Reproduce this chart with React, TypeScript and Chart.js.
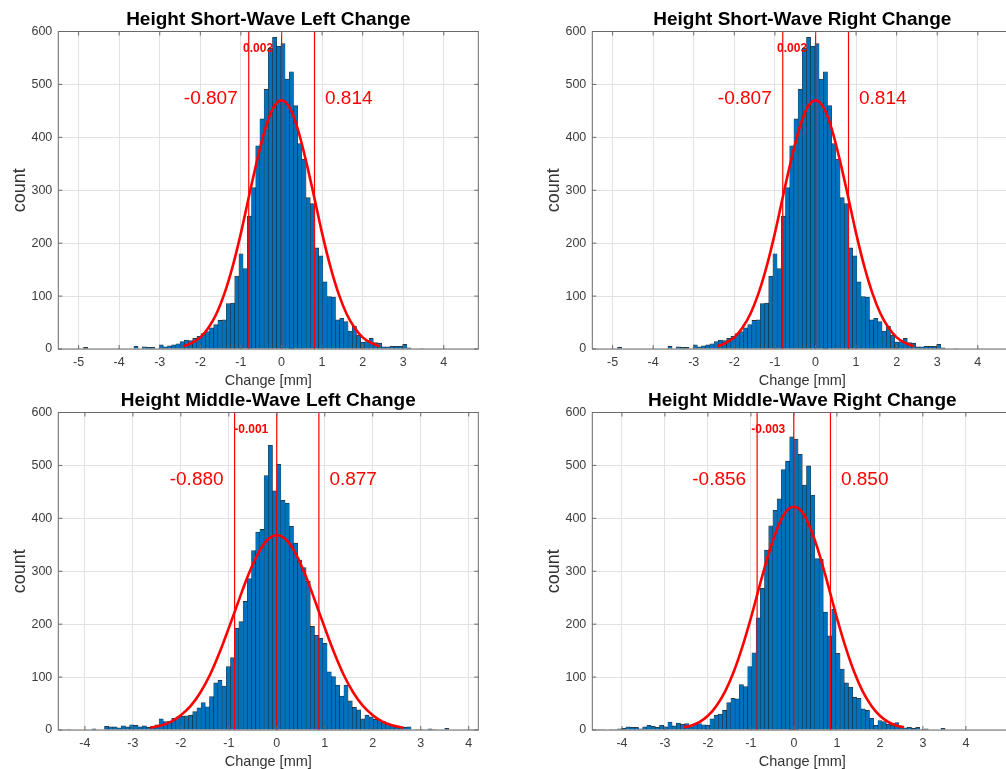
import React, { useEffect, useRef } from 'react';
import { Chart, registerables } from 'chart.js';

Chart.register(...registerables);

const FONT = "'Liberation Sans', Arial, Helvetica, sans-serif";
Chart.defaults.font.family = FONT;

// ---------- shared axis data ----------
const Y_TICKS = [0, 100, 200, 300, 400, 500, 600];
const X_TICKS_SHORT = [-5, -4, -3, -2, -1, 0, 1, 2, 3, 4];
const X_TICKS_MIDDLE = [-4, -3, -2, -1, 0, 1, 2, 3, 4];

// ---------- Short-wave (left and right panels show the same histogram) ----------
const shortBinStart = -5.5;
const shortBinWidth = 0.1035;
const shortCounts = [
  0, 0, 0, 0, 0, 0, 3, 0, 0, 0,
  0, 0, 0, 0, 0, 0, 0, 0, 5, 0,
  4, 3, 3, 0, 8, 4, 6, 8, 10, 14,
  17, 16, 20, 24, 29, 33, 40, 46, 54, 55,
  86, 87, 138, 180, 152, 251, 305, 384, 435, 491,
  568, 589, 572, 577, 510, 524, 460, 388, 359, 286,
  275, 191, 176, 127, 99, 98, 55, 58, 52, 34,
  43, 26, 13, 14, 20, 12, 11, 4, 4, 5,
  5, 5, 9, 2, 0, 0, 1, 0, 0, 0,
  0, 0, 0, 0, 0, 0, 0, 0, 0, 0,
];
const shortFitX = [-2.42, -2.2, -2.0, -1.8, -1.6, -1.4, -1.2, -1.0, -0.8, -0.6, -0.4, -0.2, 0, 0.2, 0.4, 0.6, 0.8, 1.0, 1.2, 1.4, 1.6, 1.8, 2.0, 2.2, 2.43];
const shortFitY = [5, 12, 22, 40, 67, 106, 157, 219, 289, 357, 416, 456, 470, 456, 416, 357, 289, 219, 157, 106, 67, 40, 22, 12, 5];
const shortStats = [-0.807, 0.003, 0.814];
const shortLabels = ['-0.807', '0.003', '0.814'];

// ---------- Middle-wave left ----------
const midLeftBinStart = -4.555;
const midLeftBinWidth = 0.08755;
const midLeftCounts = [
  0, 0, 1, 0, 0, 0, 0, 0, 2, 0,
  0, 7, 6, 6, 4, 8, 6, 10, 9, 6,
  8, 5, 7, 10, 21, 16, 17, 22, 25, 26,
  27, 28, 35, 42, 52, 44, 63, 89, 94, 83,
  120, 137, 192, 205, 243, 286, 339, 374, 379, 481,
  538, 452, 502, 434, 429, 385, 353, 321, 307, 281,
  196, 179, 173, 164, 110, 101, 85, 64, 85, 55,
  43, 38, 21, 28, 25, 20, 19, 16, 13, 9,
  6, 4, 5, 6, 0, 1, 1, 0, 2, 1,
  0, 0, 3, 0, 0, 0, 0, 0, 1, 1,
];
const midLeftFitX = [-2.64, -2.4, -2.2, -2.0, -1.8, -1.6, -1.4, -1.2, -1.0, -0.8, -0.6, -0.4, -0.2, 0, 0.2, 0.4, 0.6, 0.8, 1.0, 1.2, 1.4, 1.6, 1.8, 2.0, 2.2, 2.4, 2.64];
const midLeftFitY = [4, 9, 16, 28, 45, 70, 103, 145, 193, 243, 292, 332, 359, 368, 359, 332, 292, 243, 193, 145, 103, 70, 45, 28, 16, 9, 4];
const midLeftStats = [-0.880, -0.001, 0.877];
const midLeftLabels = ['-0.880', '-0.001', '0.877'];

// ---------- Middle-wave right ----------
const midRightBinStart = -4.69;
const midRightBinWidth = 0.0977;
const midRightCounts = [
  0, 1, 1, 0, 1, 1, 2, 3, 6, 5,
  5, 2, 6, 9, 7, 5, 9, 6, 15, 8,
  13, 11, 12, 6, 11, 12, 10, 9, 21, 28,
  30, 37, 52, 60, 59, 86, 82, 120, 146, 212,
  268, 340, 386, 415, 437, 492, 508, 554, 550, 521,
  463, 499, 444, 324, 323, 223, 178, 228, 145, 115,
  89, 81, 62, 60, 40, 37, 22, 9, 18, 16,
  11, 9, 14, 6, 4, 5, 3, 5, 1, 2,
  0, 0, 0, 3, 0, 0, 0, 0, 0, 0,
  0, 0, 0, 0, 0, 0, 0, 0, 0, 0,
];
const midRightFitX = [-2.56, -2.4, -2.2, -2.0, -1.8, -1.6, -1.4, -1.2, -1.0, -0.8, -0.6, -0.4, -0.2, 0, 0.2, 0.4, 0.6, 0.8, 1.0, 1.2, 1.4, 1.6, 1.8, 2.0, 2.2, 2.4, 2.56];
const midRightFitY = [5, 8, 15, 27, 46, 73, 110, 157, 212, 272, 330, 378, 411, 422, 411, 378, 330, 272, 212, 157, 110, 73, 46, 27, 15, 8, 5];
const midRightStats = [-0.856, -0.003, 0.850];
const midRightLabels = ['-0.856', '-0.003', '0.850'];

type Panel = {
  title: string;
  binStart: number;
  binWidth: number;
  counts: number[];
  xMin: number;
  xMax: number;
  xTicks: number[];
  stats: number[];
  labels: string[];
  fitX: number[];
  fitY: number[];
  left: number;
  top: number;
};

const PANELS: Panel[] = [
  { title: 'Height Short-Wave Left Change', binStart: shortBinStart, binWidth: shortBinWidth, counts: shortCounts, xMin: -5.5, xMax: 4.85, xTicks: X_TICKS_SHORT, stats: shortStats, labels: shortLabels, fitX: shortFitX, fitY: shortFitY, left: 0, top: 0 },
  { title: 'Height Short-Wave Right Change', binStart: shortBinStart, binWidth: shortBinWidth, counts: shortCounts, xMin: -5.5, xMax: 4.85, xTicks: X_TICKS_SHORT, stats: shortStats, labels: shortLabels, fitX: shortFitX, fitY: shortFitY, left: 534, top: 0 },
  { title: 'Height Middle-Wave Left Change', binStart: midLeftBinStart, binWidth: midLeftBinWidth, counts: midLeftCounts, xMin: -4.555, xMax: 4.2, xTicks: X_TICKS_MIDDLE, stats: midLeftStats, labels: midLeftLabels, fitX: midLeftFitX, fitY: midLeftFitY, left: 0, top: 381 },
  { title: 'Height Middle-Wave Right Change', binStart: midRightBinStart, binWidth: midRightBinWidth, counts: midRightCounts, xMin: -4.69, xMax: 5.08, xTicks: X_TICKS_MIDDLE, stats: midRightStats, labels: midRightLabels, fitX: midRightFitX, fitY: midRightFitY, left: 534, top: 381 },
];

const CANVAS_W = 500;
const CANVAS_H = 388;

const matlabPlugin = {
  id: 'matlabAxes',
  afterDraw(chart: any, _args: any, opts: any) {
    const { ctx, chartArea: a, scales } = chart;
    const x = scales.x;
    const y = scales.y;
    ctx.save();
    // box
    ctx.strokeStyle = '#6a6a6a';
    ctx.lineWidth = 1;
    ctx.strokeRect(a.left, a.top, a.right - a.left, a.bottom - a.top);
    // inward ticks
    ctx.beginPath();
    for (const v of opts.xTicks) {
      const px = x.getPixelForValue(v);
      ctx.moveTo(px, a.bottom);
      ctx.lineTo(px, a.bottom - 4);
      ctx.moveTo(px, a.top);
      ctx.lineTo(px, a.top + 4);
    }
    for (const v of Y_TICKS) {
      const py = y.getPixelForValue(v);
      ctx.moveTo(a.left, py);
      ctx.lineTo(a.left + 4, py);
      ctx.moveTo(a.right, py);
      ctx.lineTo(a.right - 4, py);
    }
    ctx.stroke();

    const cx = (a.left + a.right) / 2;
    // title
    ctx.fillStyle = '#000';
    ctx.font = `bold 19px ${FONT}`;
    ctx.textAlign = 'center';
    ctx.textBaseline = 'alphabetic';
    ctx.fillText(opts.title, cx, 24.5);
    // x label
    ctx.fillStyle = '#333';
    ctx.font = `14.5px ${FONT}`;
    ctx.fillText('Change [mm]', cx, 384.5);
    // y label
    ctx.save();
    ctx.translate(24.5, (a.top + a.bottom) / 2);
    ctx.rotate(-Math.PI / 2);
    ctx.font = `18px ${FONT}`;
    ctx.textAlign = 'center';
    ctx.fillText('count', 0, 0);
    ctx.restore();

    // annotations
    const [lo, mean, hi] = opts.stats;
    const [loL, meanL, hiL] = opts.labels;
    ctx.fillStyle = '#ff0000';
    ctx.font = `19px ${FONT}`;
    const bigY = y.getPixelForValue(463.5);
    ctx.textAlign = 'right';
    ctx.fillText(loL, x.getPixelForValue(lo) - 11, bigY);
    ctx.textAlign = 'left';
    ctx.fillText(hiL, x.getPixelForValue(hi) + 10.5, bigY);
    ctx.font = `bold 12px ${FONT}`;
    ctx.textAlign = 'right';
    ctx.fillText(meanL, x.getPixelForValue(mean) - 8.5, y.getPixelForValue(560.5));
    ctx.restore();
  },
};

function makeConfig(p: Panel): any {
  const bars = p.counts.map((c, i) => ({ x: p.binStart + (i + 0.5) * p.binWidth, y: c }));
  const fit = p.fitX.map((v, i) => ({ x: v, y: p.fitY[i] }));
  const vline = (v: number) => ({
    type: 'line',
    data: [{ x: v, y: 0 }, { x: v, y: 600 }],
    borderColor: '#ff0000',
    borderWidth: 1.2,
    pointRadius: 0,
    order: 2,
  });
  return {
    type: 'bar',
    data: {
      datasets: [
        {
          type: 'bar',
          data: bars,
          backgroundColor: '#0072BD',
          borderColor: 'rgba(10,10,10,0.85)',
          borderWidth: { top: 0.8, left: 0.5, right: 0.5, bottom: 0 },
          barPercentage: 1,
          categoryPercentage: 1,
          order: 3,
        },
        vline(p.stats[0]),
        vline(p.stats[1]),
        vline(p.stats[2]),
        {
          type: 'line',
          data: fit,
          borderColor: '#ff0000',
          borderWidth: 2.6,
          pointRadius: 0,
          cubicInterpolationMode: 'monotone',
          order: 1,
        },
      ],
    },
    options: {
      responsive: false,
      animation: false,
      devicePixelRatio: 1,
      events: [],
      layout: { autoPadding: false, padding: { left: 0, top: 31.5, right: 21.7, bottom: 0 } },
      plugins: {
        legend: { display: false },
        tooltip: { enabled: false },
        matlabAxes: { title: p.title, xTicks: p.xTicks, stats: p.stats, labels: p.labels },
      },
      scales: {
        x: {
          type: 'linear',
          min: p.xMin,
          max: p.xMax,
          offset: false,
          grid: { color: '#e2e2e2', drawTicks: false, offset: false, lineWidth: 1 },
          border: { display: false },
          ticks: { color: '#3c3c3c', font: { size: 12.5 }, padding: 6, maxRotation: 0, autoSkip: false },
          afterBuildTicks: (s: any) => { s.ticks = p.xTicks.map((v) => ({ value: v })); },
          afterFit: (s: any) => { s.height = 39; },
        },
        y: {
          type: 'linear',
          min: 0,
          max: 600,
          grid: { color: '#e2e2e2', drawTicks: false, lineWidth: 1 },
          border: { display: false },
          ticks: { color: '#3c3c3c', font: { size: 12.5 }, padding: 6 },
          afterBuildTicks: (s: any) => { s.ticks = Y_TICKS.map((v) => ({ value: v })); },
          afterFit: (s: any) => { s.width = 58.3; },
        },
      },
    },
    plugins: [matlabPlugin],
  };
}

export default function App() {
  const r0 = useRef<HTMLCanvasElement | null>(null);
  const r1 = useRef<HTMLCanvasElement | null>(null);
  const r2 = useRef<HTMLCanvasElement | null>(null);
  const r3 = useRef<HTMLCanvasElement | null>(null);
  const refs = [r0, r1, r2, r3];

  useEffect(() => {
    const charts = PANELS.map((p, i) => new Chart(refs[i].current as HTMLCanvasElement, makeConfig(p)));
    return () => charts.forEach((c) => c.destroy());
  }, []);

  return (
    <div style={{ position: 'absolute', left: 0, top: 0, width: 1006, height: 769, overflow: 'hidden', background: '#fff' }}>
      {PANELS.map((p, i) => (
        <canvas
          key={i}
          ref={refs[i]}
          width={CANVAS_W}
          height={CANVAS_H}
          style={{ position: 'absolute', left: p.left, top: p.top, width: CANVAS_W, height: CANVAS_H }}
        />
      ))}
    </div>
  );
}
